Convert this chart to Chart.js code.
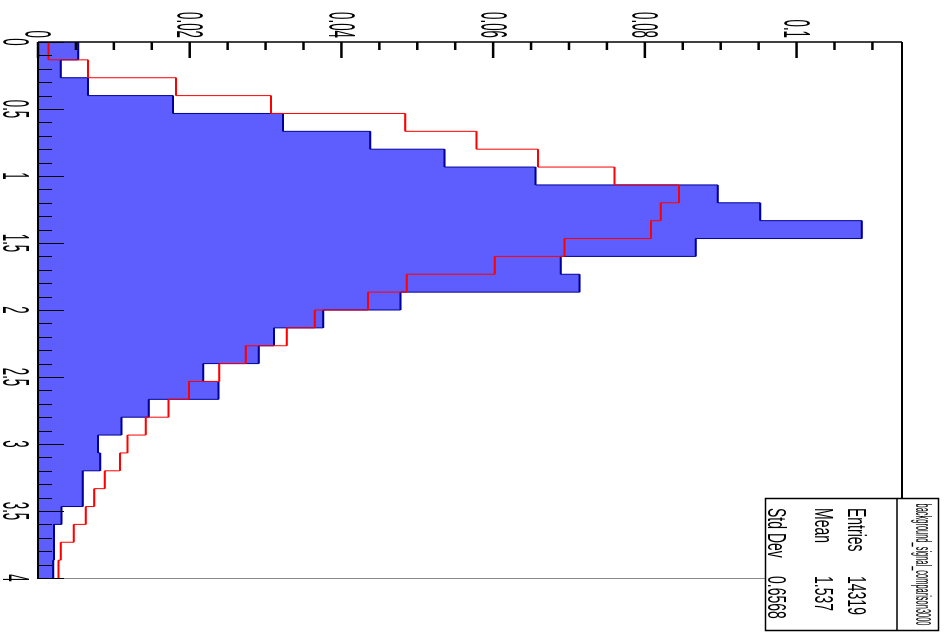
<!DOCTYPE html>
<html>
<head>
<meta charset="utf-8">
<script src="https://cdn.jsdelivr.net/npm/chart.js@4.4.1/dist/chart.umd.min.js"></script>
<style>
  html, body { margin: 0; padding: 0; background: #fff; overflow: hidden; width: 947px; height: 633px; }
  #wrap { position: absolute; left: 0; top: 0; width: 633px; height: 947px;
          transform-origin: 0 0; transform: translate(947px, 0) rotate(90deg); background: #fff; }
  canvas { display: block; }
</style>
</head>
<body>
<div id="wrap"><canvas id="c" width="633" height="947"></canvas></div>
<script>
// ---- data ----
const binEdges = [0, 0.1333, 0.2667, 0.4, 0.5333, 0.6667, 0.8, 0.9333, 1.0667, 1.2, 1.3333,
  1.4667, 1.6, 1.7333, 1.8667, 2.0, 2.1333, 2.2667, 2.4, 2.5333, 2.6667,
  2.8, 2.9333, 3.0667, 3.2, 3.3333, 3.4667, 3.6, 3.7333, 3.8667, 4.0];
const blueValues = [0.0053, 0.0030, 0.0066, 0.0178, 0.0323, 0.0438, 0.0536, 0.0656, 0.0896, 0.0952,
  0.1086, 0.0867, 0.0689, 0.0714, 0.0478, 0.0376, 0.0311, 0.0291, 0.0218, 0.0238,
  0.0146, 0.0110, 0.0079, 0.0082, 0.0059, 0.0059, 0.0031, 0.0021, 0.0021, 0.0020];
const redValues = [0.0014, 0.0066, 0.0182, 0.0307, 0.0484, 0.0578, 0.0659, 0.0760, 0.0845, 0.0821,
  0.0808, 0.0694, 0.0602, 0.0486, 0.0435, 0.0365, 0.0328, 0.0274, 0.0239, 0.0199,
  0.0172, 0.0142, 0.0118, 0.0108, 0.0088, 0.0074, 0.0063, 0.0047, 0.0030, 0.0027];
const xTickLabels = ["0", "0.5", "1", "1.5", "2", "2.5", "3", "3.5", "4"];
const yTickLabels = ["0", "0.02", "0.04", "0.06", "0.08", "0.1"];
const statsTitle = "background_signal_comparison3000";
const statsNames = ["Entries", "Mean", "Std Dev"];
const statsValues = ["14319", "1.537", "0.6568"];

// ---- helpers building library data from the arrays ----
function stepPoints(vals) {
  const pts = vals.map((v, i) => ({ x: binEdges[i], y: v }));
  pts.push({ x: binEdges[binEdges.length - 1], y: vals[vals.length - 1] });
  return pts;
}
function topSegments(vals) {
  const pts = [];
  vals.forEach((v, i) => {
    pts.push({ x: binEdges[i], y: v });
    pts.push({ x: binEdges[i + 1], y: v });
    pts.push({ x: binEdges[i + 1], y: null });
  });
  return pts;
}

const FONT = '"Liberation Sans", Arial, sans-serif';
function txt(ctx, s, x, y, size, align, sx, baseline) {
  ctx.save();
  ctx.translate(x, y);
  ctx.scale(sx, 1);
  ctx.font = size + 'px ' + FONT;
  ctx.fillStyle = '#000';
  ctx.textAlign = align;
  ctx.textBaseline = baseline || 'alphabetic';
  ctx.fillText(s, 0, 0);
  ctx.restore();
}
function fitScale(ctx, s, size, width) {
  ctx.save();
  ctx.font = size + 'px ' + FONT;
  const w = ctx.measureText(s).width;
  ctx.restore();
  return width / w;
}

const rootFrame = {
  id: 'rootFrame',
  afterDraw(chart) {
    const ctx = chart.ctx, a = chart.chartArea;
    const xs = chart.scales.x, ys = chart.scales.y;
    ctx.save();
    // frame
    ctx.strokeStyle = '#888'; ctx.lineWidth = 1;
    ctx.beginPath(); ctx.moveTo(a.right + 0.5, a.top); ctx.lineTo(a.right + 0.5, a.bottom); ctx.stroke();
    ctx.strokeStyle = '#000'; ctx.lineWidth = 2;
    ctx.beginPath(); ctx.moveTo(a.left, a.top); ctx.lineTo(a.right, a.top); ctx.stroke();
    ctx.beginPath(); ctx.moveTo(a.left, a.bottom); ctx.lineTo(a.right + 1, a.bottom); ctx.stroke();
    ctx.lineWidth = 1.5;
    ctx.beginPath(); ctx.moveTo(a.left, a.top); ctx.lineTo(a.left, a.bottom); ctx.stroke();
    // x-axis ticks (bins), inside the frame
    ctx.strokeStyle = '#000';
    ctx.lineWidth = 1;
    for (let k = 0; k <= 40; k++) {
      const v = k / 10;
      const px = Math.round(xs.getPixelForValue(v)) + 0.5;
      const len = (k % 5 === 0) ? 26 : 14;
      ctx.beginPath(); ctx.moveTo(px, a.bottom); ctx.lineTo(px, a.bottom - len); ctx.stroke();
    }
    // y-axis ticks (values), inside the frame
    ctx.lineWidth = 2.5;
    for (let k = 0; k * 0.005 <= ys.max + 1e-9; k++) {
      const v = k * 0.005;
      const py = ys.getPixelForValue(v);
      const len = (k % 4 === 0) ? 16 : 8;
      ctx.beginPath(); ctx.moveTo(a.left, py); ctx.lineTo(a.left + len, py); ctx.stroke();
    }
    // tick labels
    xTickLabels.forEach(l => {
      const px = xs.getPixelForValue(parseFloat(l));
      txt(ctx, l, px, 944, 36, 'center', 0.37);
    });
    yTickLabels.forEach(l => {
      const py = ys.getPixelForValue(parseFloat(l));
      txt(ctx, l, a.left - 4, py + 12.5, 36, 'right', 0.37);
    });
    // stats box
    const bx0 = 498, bx1 = 631, by0 = 8, by1 = 182, byT = 50;
    ctx.fillStyle = '#fff';
    ctx.fillRect(bx0, by0, bx1 - bx0, by1 - by0);
    ctx.strokeStyle = '#000'; ctx.lineWidth = 1.5;
    ctx.strokeRect(bx0 + 0.5, by0 + 0.5, bx1 - bx0 - 1, by1 - by0 - 1);
    ctx.beginPath(); ctx.moveTo(bx0, byT); ctx.lineTo(bx1, byT); ctx.stroke();
    txt(ctx, statsTitle, (bx0 + bx1) / 2, 31, 22, 'center', fitScale(ctx, statsTitle, 22, 122));
    const rowY = [99, 132, 179];
    const sx = 0.56;
    statsNames.forEach((n, i) => {
      txt(ctx, n, 508, rowY[i], 25, 'left', sx);
      txt(ctx, statsValues[i], 576, rowY[i], 25, 'left', sx);
    });
    ctx.restore();
  }
};

new Chart(document.getElementById('c'), {
  type: 'line',
  data: {
    datasets: [
      { label: 'signal', data: topSegments(redValues), borderColor: '#ff0000', borderWidth: 2,
        pointRadius: 0, spanGaps: false, fill: false, order: 0 },
      { label: 'signal step', data: stepPoints(redValues), stepped: 'before', borderColor: '#ff0000',
        borderWidth: 1, pointRadius: 0, fill: false, order: 1 },
      { label: 'background', data: topSegments(blueValues), borderColor: 'rgb(0,0,153)', borderWidth: 2,
        pointRadius: 0, spanGaps: false, fill: false, order: 2 },
      { label: 'background fill', data: stepPoints(blueValues), stepped: 'before', borderColor: 'rgb(0,0,153)',
        borderWidth: 1, backgroundColor: 'rgb(94,94,255)', pointRadius: 0, fill: 'origin', order: 3 }
    ]
  },
  options: {
    responsive: false,
    devicePixelRatio: 1,
    animation: false,
    events: [],
    layout: { padding: { left: 42, right: 55, top: 45, bottom: 38 } },
    scales: {
      x: { type: 'linear', min: 0, max: 4, display: false },
      y: { type: 'linear', min: 0, max: 0.1139, display: false }
    },
    plugins: { legend: { display: false }, tooltip: { enabled: false } }
  },
  plugins: [rootFrame]
});
</script>
</body>
</html>
